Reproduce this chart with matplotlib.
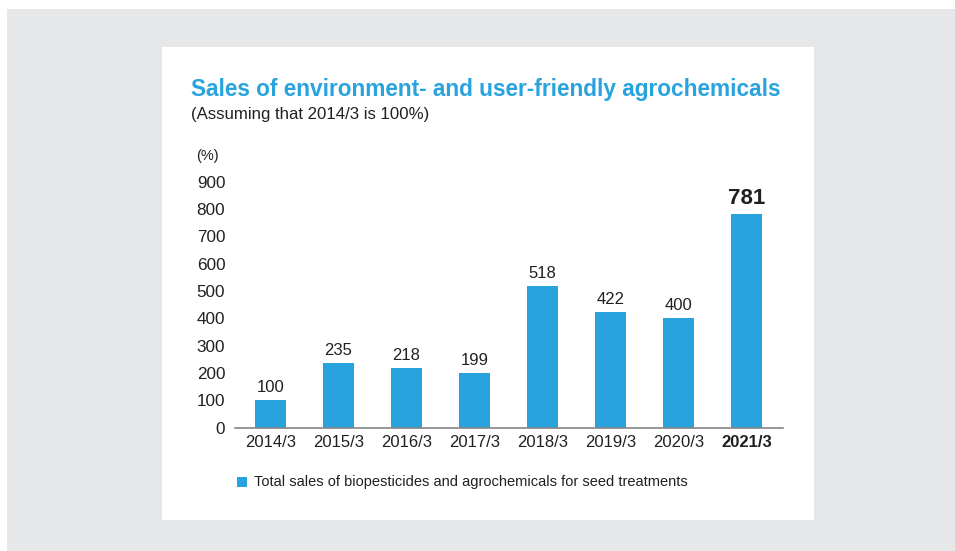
import matplotlib
matplotlib.use("Agg")
import matplotlib.pyplot as plt
from matplotlib.patches import Rectangle

categories = ["2014/3", "2015/3", "2016/3", "2017/3", "2018/3", "2019/3", "2020/3", "2021/3"]
values = [100, 235, 218, 199, 518, 422, 400, 781]
yticks = [0, 100, 200, 300, 400, 500, 600, 700, 800, 900]

BLUE = "#29a3dd"
TXT = "#231f20"
W, H = 955, 551

plt.rcParams['font.family'] = ['Liberation Sans', 'DejaVu Sans']

fig = plt.figure(figsize=(W / 100, H / 100), dpi=100)
fig.patch.set_facecolor("white")

def fx(px):
    return px / W

def fy(py):
    return 1 - py / H

# gray background and white panel
fig.patches.append(Rectangle((fx(7), 0), 1 - fx(7), fy(9), transform=fig.transFigure,
                             facecolor="#e6e7e8", edgecolor="none", zorder=-10))
fig.patches.append(Rectangle((fx(162), fy(519.5)), fx(814) - fx(162), fy(47) - fy(519.5),
                             transform=fig.transFigure, facecolor="white", edgecolor="none", zorder=-9))

ax_left, ax_right = 235, 782.7
ax_top, ax_bot = 181.5, 427.5
ax = fig.add_axes([fx(ax_left), fy(ax_bot), fx(ax_right) - fx(ax_left), fy(ax_top) - fy(ax_bot)])
ax.set_facecolor("none")

x = list(range(len(categories)))
ax.bar(x, values, width=0.456, color=BLUE, zorder=2)
ax.set_xlim(-0.522, 7.535)
ax.set_ylim(0, 900)

for s in ["top", "right", "left"]:
    ax.spines[s].set_visible(False)
ax.spines["bottom"].set_color("#858585")
ax.spines["bottom"].set_linewidth(1.2)
ax.spines["bottom"].set_zorder(3)

ax.set_yticks(yticks)
ax.set_yticklabels([str(t) for t in yticks], fontsize=12.3, color=TXT)
ax.tick_params(axis="y", length=0, pad=7)
ax.set_xticks(x)
ax.set_xticklabels(categories, fontsize=12, color=TXT)
ax.tick_params(axis="x", length=0, pad=5.5)
ax.get_xticklabels()[-1].set_fontweight("bold")

for i, v in enumerate(values):
    if i == len(values) - 1:
        ax.text(i, v + 18, str(v), ha="center", va="bottom", fontsize=16, fontweight="bold", color=TXT)
    else:
        ax.text(i, v + 18, str(v), ha="center", va="bottom", fontsize=12, color=TXT)

fig.text(fx(207), fy(156), "(%)", ha="center", va="center", fontsize=10.5, color=TXT)

fig.text(fx(191), fy(89), "Sales of environment- and user-friendly agrochemicals",
         ha="left", va="center", fontsize=16.3, fontweight="bold", color=BLUE)
fig.text(fx(191), fy(114), "(Assuming that 2014/3 is 100%)",
         ha="left", va="center", fontsize=12.1, color=TXT)

# legend
fig.patches.append(Rectangle((fx(237), fy(487)), fx(247) - fx(237), fy(477) - fy(487),
                             transform=fig.transFigure, facecolor=BLUE, edgecolor="none"))
fig.text(fx(254), fy(482), "Total sales of biopesticides and agrochemicals for seed treatments",
         ha="left", va="center", fontsize=10.5, color=TXT)

fig.savefig("out.png", dpi=100)
